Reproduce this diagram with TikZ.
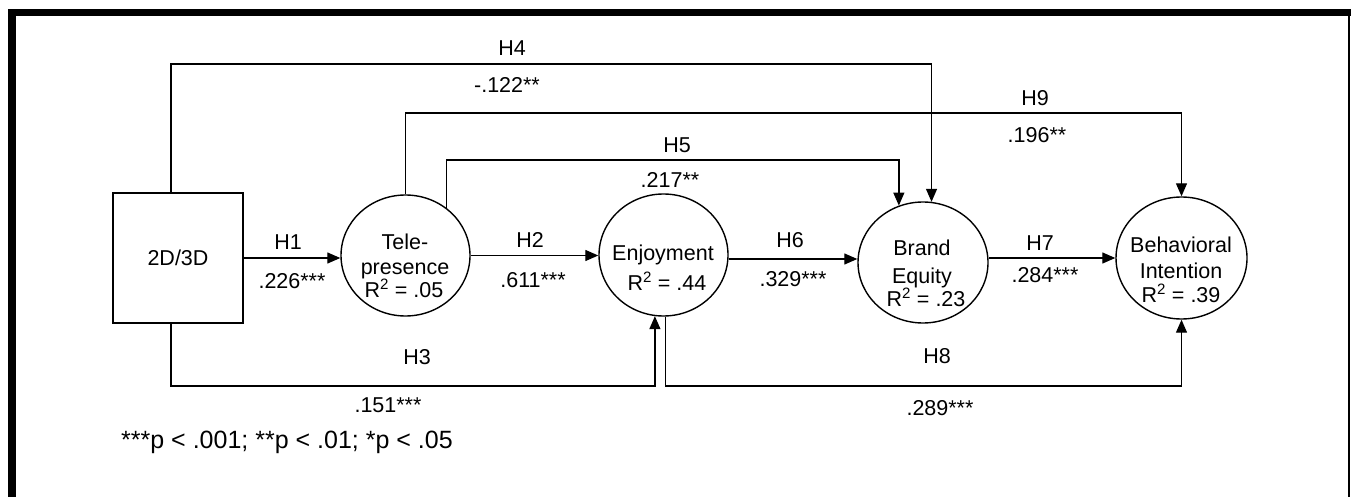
\documentclass[tikz,border=0pt]{standalone}
\usepackage{fontspec}
\setmainfont{Liberation Sans}
\usetikzlibrary{arrows.meta,shapes.geometric,calc}
\begin{document}
\begin{tikzpicture}[x=1pt,y=-1pt,
  conn/.style={line width=1.3pt},
  arr/.style={conn,-{Triangle[length=13pt,width=11pt]}},
  latent/.style={draw,ellipse,line width=1.4pt,inner sep=0pt},
  lbl/.style={anchor=base,inner sep=0pt,font=\fontsize{21.5}{24}\selectfont},
]
\useasboundingbox (0,0) rectangle (1351,497);
% frame
\fill (8,9) rectangle (16,497);
\fill (8,9) rectangle (1351,16);
\fill (1348,16) rectangle (1350,497);

% nodes
\node[draw,line width=1.3pt,minimum width=130pt,minimum height=130pt,inner sep=0pt] (box) at (178,258) {};
\node[lbl] (boxt) at (178,265.5) {2D/3D};
\node[latent,minimum width=129pt,minimum height=121pt] (tele) at (405.5,255.5) {};
\node[latent,minimum width=129pt,minimum height=122pt] (enj) at (663.5,255) {};
\node[latent,minimum width=130pt,minimum height=121pt] (brand) at (923,262.5) {};
\node[latent,minimum width=131pt,minimum height=122pt] (bi) at (1181.5,258) {};

% texts inside
\node[lbl] (teleA) at (405,249.5) {Tele-};
\node[lbl] (teleB) at (405,274) {presence};
\node[lbl] (teleC) at (404,297.5) {R\textsuperscript{2} = .05};
\node[lbl] (enjA) at (663,260.5) {Enjoyment};
\node[lbl] (enjB) at (667,290.5) {R\textsuperscript{2} = .44};
\node[lbl] (brA) at (922,255) {Brand};
\node[lbl] (brB) at (922,283.5) {Equity};
\node[lbl] (brC) at (926,306) {R\textsuperscript{2} = .23};
\node[lbl] (biA) at (1181,252.5) {Behavioral};
\node[lbl] (biB) at (1181,278.5) {Intention};
\node[lbl] (biC) at (1181,302.5) {R\textsuperscript{2} = .39};

% helper coordinates
\coordinate (h4top) at (0,64);
\coordinate (h9top) at (0,113);
\coordinate (h5top) at (0,160);
\coordinate (bot) at (0,386);

% connectors
\draw[arr] (box.east) -- (box.east -| tele.west);
\draw[arr] (tele.east) -- (tele.east -| enj.west);
\draw[arr] ([yshift=-4pt]enj.east) -- ([yshift=-4pt]enj.east -| brand.west);
\draw[arr] ([yshift=4.5pt]brand.east) -- (bi.west);
\draw[arr] ([xshift=-7pt]box.north) |- (h4top -| brand.82) -- (brand.82);
\draw[arr] (tele.north) |- (h9top -| bi.north) -- (bi.north);
\draw[arr] (tele.49) |- (h5top -| brand.113) -- (brand.113);
\draw[arr] ([xshift=-7pt]box.south) |- (bot -| enj.262) -- (enj.262);
\draw[arr] (enj.272) |- (bot -| bi.south) -- (bi.south);

% labels
\node[lbl] (l1) at (288,249.5) {H1};
\node[lbl] (c1) at (292,288) {.226***};
\node[lbl] (l2) at (530,247.5) {H2};
\node[lbl] (c2) at (533,287.5) {.611***};
\node[lbl] (l6) at (790,247.5) {H6};
\node[lbl] (c6) at (793,286.5) {.329***};
\node[lbl] (l7) at (1040,250.5) {H7};
\node[lbl] (c7) at (1045,282) {.284***};
\node[lbl] (l4) at (512,55.5) {H4};
\node[lbl] (c4) at (507,92.5) {-.122**};
\node[lbl] (l9) at (1035,105.5) {H9};
\node[lbl] (c9) at (1037,142.5) {.196**};
\node[lbl] (l5) at (677,152.5) {H5};
\node[lbl] (c5) at (670,188) {.217**};
\node[lbl] (l3) at (417,364) {H3};
\node[lbl] (c3) at (388,412.5) {.151***};
\node[lbl] (l8) at (937,363) {H8};
\node[lbl] (c8) at (940,415.5) {.289***};
\node[lbl,anchor=base west,font=\fontsize{25}{28}\selectfont] (legend) at (121,448.5) {***p < .001; **p < .01; *p < .05};
\end{tikzpicture}
\end{document}
